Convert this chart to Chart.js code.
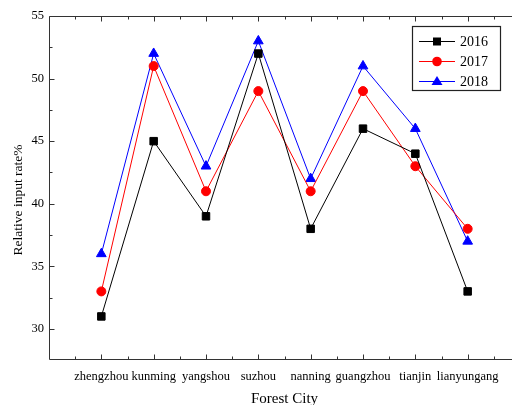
<!DOCTYPE html>
<html>
<head>
<meta charset="utf-8">
<script src="https://cdn.jsdelivr.net/npm/chart.js@4.4.1/dist/chart.umd.min.js"></script>
<style>
  html, body { margin: 0; padding: 0; background: #fff; overflow: hidden; }
  #wrap { width: 540px; height: 405px; }
  #chart { display: block; width: 540px; height: 405px; }
</style>
</head>
<body>
<div id="wrap"><canvas id="chart" width="540" height="405"></canvas></div>
<script>
// data
const cities = ['zhengzhou', 'kunming', 'yangshou', 'suzhou', 'nanning', 'guangzhou', 'tianjin', 'lianyungang'];
const years = ['2016', '2017', '2018'];
const rate2016 = [31, 45, 39, 52, 38, 46, 44, 33];
const rate2017 = [33, 51, 41, 49, 41, 49, 43, 38];
const rate2018 = [36, 52, 43, 53, 42, 51, 46, 37];
const yTicks = [30, 35, 40, 45, 50, 55];
const yTitle = 'Relative input rate%';

const serif = "'Liberation Serif', 'Times New Roman', serif";
const axisColor = '#333';

function pts(arr) {
  return arr.map((v, i) => ({ x: i, y: v }));
}

// frame (left, top, bottom), inward ticks, y title and legend box
const framePlugin = {
  id: 'frame',
  afterDraw(chart) {
    const { ctx, chartArea: a, scales: { x, y } } = chart;
    ctx.save();
    ctx.strokeStyle = axisColor;
    ctx.lineWidth = 1;
    const L = Math.round(a.left) + 0.5, R = Math.round(a.right) + 0.5;
    const T = Math.round(a.top) + 0.5, B = Math.round(a.bottom) + 0.5;
    ctx.beginPath();
    ctx.moveTo(L, T); ctx.lineTo(R, T);
    ctx.moveTo(L, T); ctx.lineTo(L, B);
    ctx.moveTo(L, B); ctx.lineTo(R, B);
    // y ticks
    for (let v = Math.ceil(y.min / 2.5) * 2.5; v <= y.max; v += 2.5) {
      const py = Math.round(y.getPixelForValue(v)) + 0.5;
      const len = (v % 5 === 0) ? 5 : 3;
      ctx.moveTo(L, py); ctx.lineTo(L + len, py);
    }
    // x ticks (bottom and top)
    for (let v = x.min + 0.5; v < x.max; v += 0.5) {
      const px = Math.round(x.getPixelForValue(v)) + 0.5;
      const len = Number.isInteger(v) ? 5 : 3;
      ctx.moveTo(px, B); ctx.lineTo(px, B - len);
      ctx.moveTo(px, T); ctx.lineTo(px, T + len);
    }
    ctx.stroke();

    // y axis title
    ctx.save();
    ctx.translate(18, 200);
    ctx.rotate(-Math.PI / 2);
    ctx.fillStyle = '#000';
    ctx.font = '13.5px ' + serif;
    ctx.textAlign = 'center';
    ctx.textBaseline = 'middle';
    ctx.fillText(yTitle, 0, 0);
    ctx.restore();

    // legend
    const bx = 412.5, by = 26.5, bw = 88, bh = 64;
    ctx.fillStyle = '#fff';
    ctx.fillRect(bx, by, bw, bh);
    ctx.strokeStyle = '#222';
    ctx.lineWidth = 1.2;
    ctx.strokeRect(bx, by, bw, bh);
    ctx.font = '14px ' + serif;
    ctx.textBaseline = 'middle';
    chart.data.datasets.forEach((ds, i) => {
      const cy = 41 + i * 20;
      ctx.strokeStyle = ds.borderColor;
      ctx.lineWidth = 1;
      ctx.beginPath();
      ctx.moveTo(419, cy + 0.5); ctx.lineTo(455, cy + 0.5);
      ctx.stroke();
      ctx.fillStyle = ds.borderColor;
      ctx.beginPath();
      if (ds.pointStyle === 'rect') {
        ctx.rect(433, cy - 3.5, 8, 8);
      } else if (ds.pointStyle === 'circle') {
        ctx.arc(437, cy + 0.5, 4.8, 0, Math.PI * 2);
      } else {
        ctx.moveTo(437, cy - 5);
        ctx.lineTo(442.5, cy + 4);
        ctx.lineTo(431.5, cy + 4);
        ctx.closePath();
      }
      ctx.fill();
      ctx.fillStyle = '#000';
      ctx.fillText(ds.label, 460, cy + 1);
    });
    ctx.restore();
  }
};

new Chart(document.getElementById('chart'), {
  type: 'line',
  data: {
    datasets: [
      { label: years[0], data: pts(rate2016), borderColor: '#000000', backgroundColor: '#000000', pointStyle: 'rect', pointRadius: 5.3 },
      { label: years[1], data: pts(rate2017), borderColor: '#ff0000', backgroundColor: '#ff0000', pointStyle: 'circle', pointRadius: 4.5 },
      { label: years[2], data: pts(rate2018), borderColor: '#0000ff', backgroundColor: '#0000ff', pointStyle: 'triangle', pointRadius: 5.6 }
    ]
  },
  plugins: [framePlugin],
  options: {
    responsive: false,
    animation: false,
    layout: { padding: { top: 16, left: 0, right: 20, bottom: 0 } },
    elements: {
      line: { borderWidth: 1, tension: 0 },
      point: { borderWidth: 1, hoverRadius: 5 }
    },
    plugins: { legend: { display: false }, tooltip: { enabled: false } },
    scales: {
      x: {
        type: 'linear',
        min: -1,
        max: 8,
        grid: { display: false, drawTicks: false },
        border: { display: false },
        afterFit(scale) {
          scale.height = 46;
          scale.paddingLeft = 0;
          scale.paddingRight = 0;
        },
        afterBuildTicks(scale) { scale.ticks = cities.map((c, i) => ({ value: i })); },
        ticks: {
          autoSkip: false,
          maxRotation: 0,
          minRotation: 0,
          padding: 10,
          color: '#000',
          font: { family: serif, size: 12.5 },
          callback: (v, i) => cities[i]
        },
        title: {
          display: true,
          text: 'Forest City',
          color: '#000',
          font: { family: serif, size: 15, lineHeight: 0.8 },
          padding: { top: 0, bottom: 0 }
        }
      },
      y: {
        min: 27.6,
        max: 55,
        grid: { display: false, drawTicks: false },
        border: { display: false },
        afterFit(scale) { scale.width = 49; },
        afterBuildTicks(scale) { scale.ticks = yTicks.map(v => ({ value: v })); },
        ticks: {
          padding: 5,
          color: '#000',
          font: { family: serif, size: 12.5 }
        }
      }
    }
  }
});
</script>
</body>
</html>
